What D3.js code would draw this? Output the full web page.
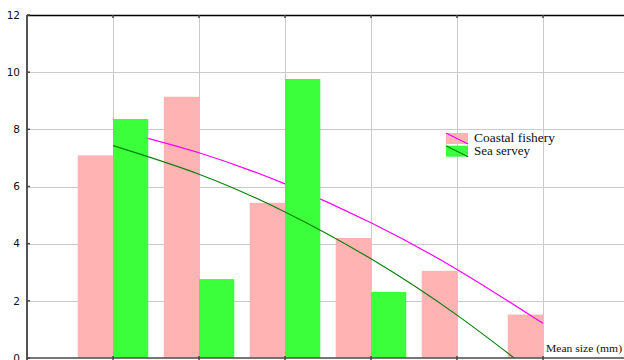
<!DOCTYPE html>
<html><head><meta charset="utf-8">
<script src="https://cdn.jsdelivr.net/npm/d3@7"></script>
<style>html,body{margin:0;padding:0;background:#fff;overflow:hidden}</style>
</head><body>
<svg id="c" width="624" height="360"></svg>
<script>
const categories = [1, 2, 3, 4, 5, 6];
const coastalBars = [7.09, 9.14, 5.43, 4.20, 3.05, 1.52];
const seaBars = [8.36, 2.76, 9.76, 2.31, 0, 0];
const coastalTrend = [8.00, 7.18, 6.09, 4.73, 3.10, 1.21];
const seaTrend = [7.43, 6.43, 5.11, 3.47, 1.50, -0.78];
const yTicks = [0, 2, 4, 6, 8, 10, 12];
const seriesNames = ["Coastal fishery", "Sea servey"];
const xLabel = "Mean size (mm)";

const svg = d3.select("#c");
const x = d3.scaleLinear().domain([0, 7]).range([27, 629]);
const y = d3.scaleLinear().domain([0, 12]).range([358, 15]);
const bw = x(0.41) - x(0);

svg.append("defs").append("clipPath").attr("id", "clip")
  .append("rect").attr("x", 27).attr("y", 15).attr("width", 602).attr("height", 343);

// gridlines
const grid = svg.append("g").attr("stroke", "#cacaca").attr("stroke-width", 1);
yTicks.slice(1, -1).forEach(t => grid.append("line")
  .attr("x1", x(0)).attr("x2", x(7)).attr("y1", Math.round(y(t)) + 0.5).attr("y2", Math.round(y(t)) + 0.5));
categories.forEach(c => grid.append("line")
  .attr("x1", Math.round(x(c)) + 0.5).attr("x2", Math.round(x(c)) + 0.5).attr("y1", y(12)).attr("y2", y(0)));

const plot = svg.append("g").attr("clip-path", "url(#clip)");
// coastal bars
plot.selectAll(".pb").data(categories).enter().append("rect")
  .attr("x", (d) => x(d) - bw).attr("width", bw)
  .attr("y", (d, i) => y(coastalBars[i])).attr("height", (d, i) => y(0) - y(coastalBars[i]))
  .attr("fill", "#ffb3b3");

const line = d3.line().x(d => x(d[0])).y(d => y(d[1])).curve(d3.curveNatural);
plot.append("path").datum(categories.map((c, i) => [c, coastalTrend[i]]))
  .attr("d", line).attr("fill", "none").attr("stroke", "#ff00ff").attr("stroke-width", 1.2);

// sea bars
plot.selectAll(".gb").data(categories).enter().append("rect")
  .attr("x", (d) => x(d)).attr("width", bw)
  .attr("y", (d, i) => y(seaBars[i])).attr("height", (d, i) => y(0) - y(seaBars[i]))
  .attr("fill", "#3cff3c");

plot.append("path").datum(categories.map((c, i) => [c, seaTrend[i]]))
  .attr("d", line).attr("fill", "none").attr("stroke", "#0a800a").attr("stroke-width", 1.2);

// axes
svg.append("line").attr("x1", x(0)).attr("x2", 624).attr("y1", 15.5).attr("y2", 15.5)
  .attr("stroke", "#000").attr("stroke-width", 1.3);
svg.append("line").attr("x1", x(0)).attr("x2", 624).attr("y1", y(0)).attr("y2", y(0))
  .attr("stroke", "#555", ).attr("stroke-width", 2).attr("opacity", 0.8);
svg.append("line").attr("x1", 27).attr("x2", 27).attr("y1", 15).attr("y2", 360)
  .attr("stroke", "#555").attr("stroke-width", 2);

const ticks = svg.append("g").attr("stroke", "#444").attr("stroke-width", 1.5);
yTicks.forEach(t => ticks.append("line").attr("x1", 27).attr("x2", 30).attr("y1", y(t)).attr("y2", y(t)));
categories.forEach(c => {
  ticks.append("line").attr("x1", x(c)).attr("x2", x(c)).attr("y1", 15).attr("y2", 18);
  ticks.append("line").attr("x1", x(c)).attr("x2", x(c)).attr("y1", y(0) - 2).attr("y2", y(0) + 2);
});

svg.append("g").selectAll("text").data(yTicks).enter().append("text")
  .attr("x", 20).attr("y", d => y(d)).attr("dy", "0.36em")
  .attr("text-anchor", "end").attr("font-family", "DejaVu Sans").attr("font-size", 10.5)
  .attr("fill", "#111").text(d => d);

svg.append("text").attr("x", 546).attr("y", 352).attr("font-family", "Liberation Serif")
  .attr("font-size", 11).attr("fill", "#111").attr("textLength", 76).attr("lengthAdjust", "spacingAndGlyphs").text(xLabel);

// legend
const lg = svg.append("g");
const lcol = [["#ffb3b3", "#ff00ff"], ["#3cff3c", "#0a800a"]];
const lenT = [81, 56];
seriesNames.forEach((n, i) => {
  const yy = 133 + i * 12.7;
  lg.append("rect").attr("x", 446).attr("y", yy).attr("width", 22).attr("height", 11).attr("fill", lcol[i][0]);
  lg.append("line").attr("x1", 446).attr("y1", yy).attr("x2", 468).attr("y2", yy + 11)
    .attr("stroke", lcol[i][1]).attr("stroke-width", 1.1);
  lg.append("text").attr("x", 474).attr("y", yy + 9.3).attr("font-family", "Liberation Serif")
    .attr("font-size", 12).attr("fill", "#111").attr("textLength", lenT[i])
    .attr("lengthAdjust", "spacingAndGlyphs").text(n);
});
</script>
</body></html>
